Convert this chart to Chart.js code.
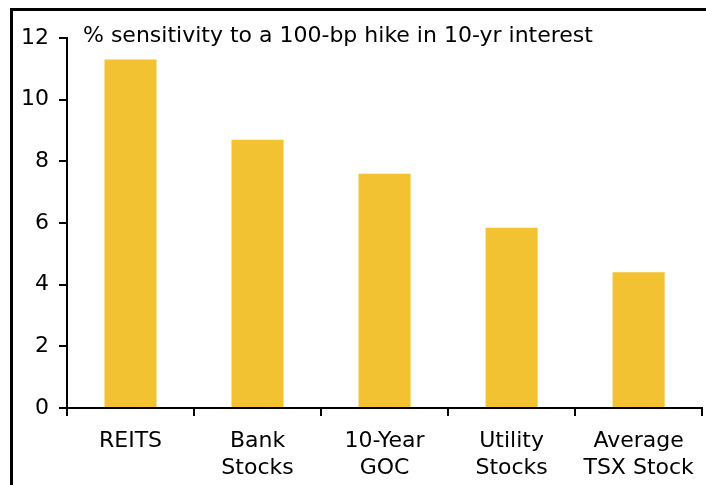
<!DOCTYPE html>
<html>
<head>
<meta charset="utf-8">
<script src="https://cdn.jsdelivr.net/npm/chart.js@4/dist/chart.umd.min.js"></script>
<style>
  html, body { margin: 0; padding: 0; background: #fff; }
  canvas { display: block; }
</style>
</head>
<body>
<canvas id="c" width="706" height="485"></canvas>
<script>
// Rate sensitivity of Canadian asset classes
const categories = [["REITS"], ["Bank", "Stocks"], ["10-Year", "GOC"], ["Utility", "Stocks"], ["Average", "TSX Stock"]];
const sensitivity = [11.3, 8.7, 7.6, 5.85, 4.4];
const yTicks = [0, 2, 4, 6, 8, 10, 12];
const titleText = "% sensitivity to a 100-bp hike in 10-yr interest";

const FONT = "'DejaVu Sans', Verdana, sans-serif";
const BAR = "rgb(242,194,50)";

// Frame lines along the top and left edges, plus the in-plot heading
const framePlugin = {
  id: "frame",
  beforeDraw(chart) {
    const ctx = chart.ctx;
    ctx.save();
    ctx.fillStyle = "#fff";
    ctx.fillRect(0, 0, chart.width, chart.height);
    ctx.strokeStyle = "#000";
    ctx.lineWidth = 3;
    ctx.beginPath();
    ctx.moveTo(11.5, chart.height);
    ctx.lineTo(11.5, 9.5);
    ctx.lineTo(chart.width, 9.5);
    ctx.stroke();
    ctx.restore();
  },
  afterDraw(chart) {
    const ctx = chart.ctx;
    ctx.save();
    ctx.fillStyle = "#000";
    ctx.font = "22px " + FONT;
    ctx.textBaseline = "alphabetic";
    ctx.textAlign = "left";
    ctx.fillText(titleText, 83, 42);
    ctx.restore();
  }
};

new Chart(document.getElementById("c"), {
  type: "bar",
  data: {
    labels: categories,
    datasets: [{
      data: sensitivity,
      backgroundColor: BAR,
      borderWidth: 0,
      categoryPercentage: 1,
      barPercentage: 0.41
    }]
  },
  options: {
    responsive: false,
    devicePixelRatio: 1,
    animation: false,
    layout: { padding: { top: 38, right: 2, left: 0, bottom: 0 } },
    plugins: {
      legend: { display: false },
      tooltip: { enabled: false },
      title: { display: false }
    },
    scales: {
      x: {
        grid: { offset: true, drawOnChartArea: false, drawTicks: true, tickLength: 8, color: "#000", lineWidth: 2 },
        border: { display: true, color: "#000", width: 2 },
        ticks: { color: "#000", font: { family: FONT, size: 22, lineHeight: 1.22 }, padding: 12, maxRotation: 0, autoSkip: false },
        afterFit(s) { s.height = 77; }
      },
      y: {
        min: 0,
        max: 12,
        afterBuildTicks(s) { s.ticks = yTicks.map(v => ({ value: v })); },
        grid: { drawOnChartArea: false, drawTicks: true, tickLength: 8, color: "#000", lineWidth: 2 },
        border: { display: true, color: "#000", width: 2 },
        ticks: { color: "#000", font: { family: FONT, size: 22 }, padding: 10 },
        afterFit(s) { s.width = 67; }
      }
    }
  },
  plugins: [framePlugin]
});
</script>
</body>
</html>
